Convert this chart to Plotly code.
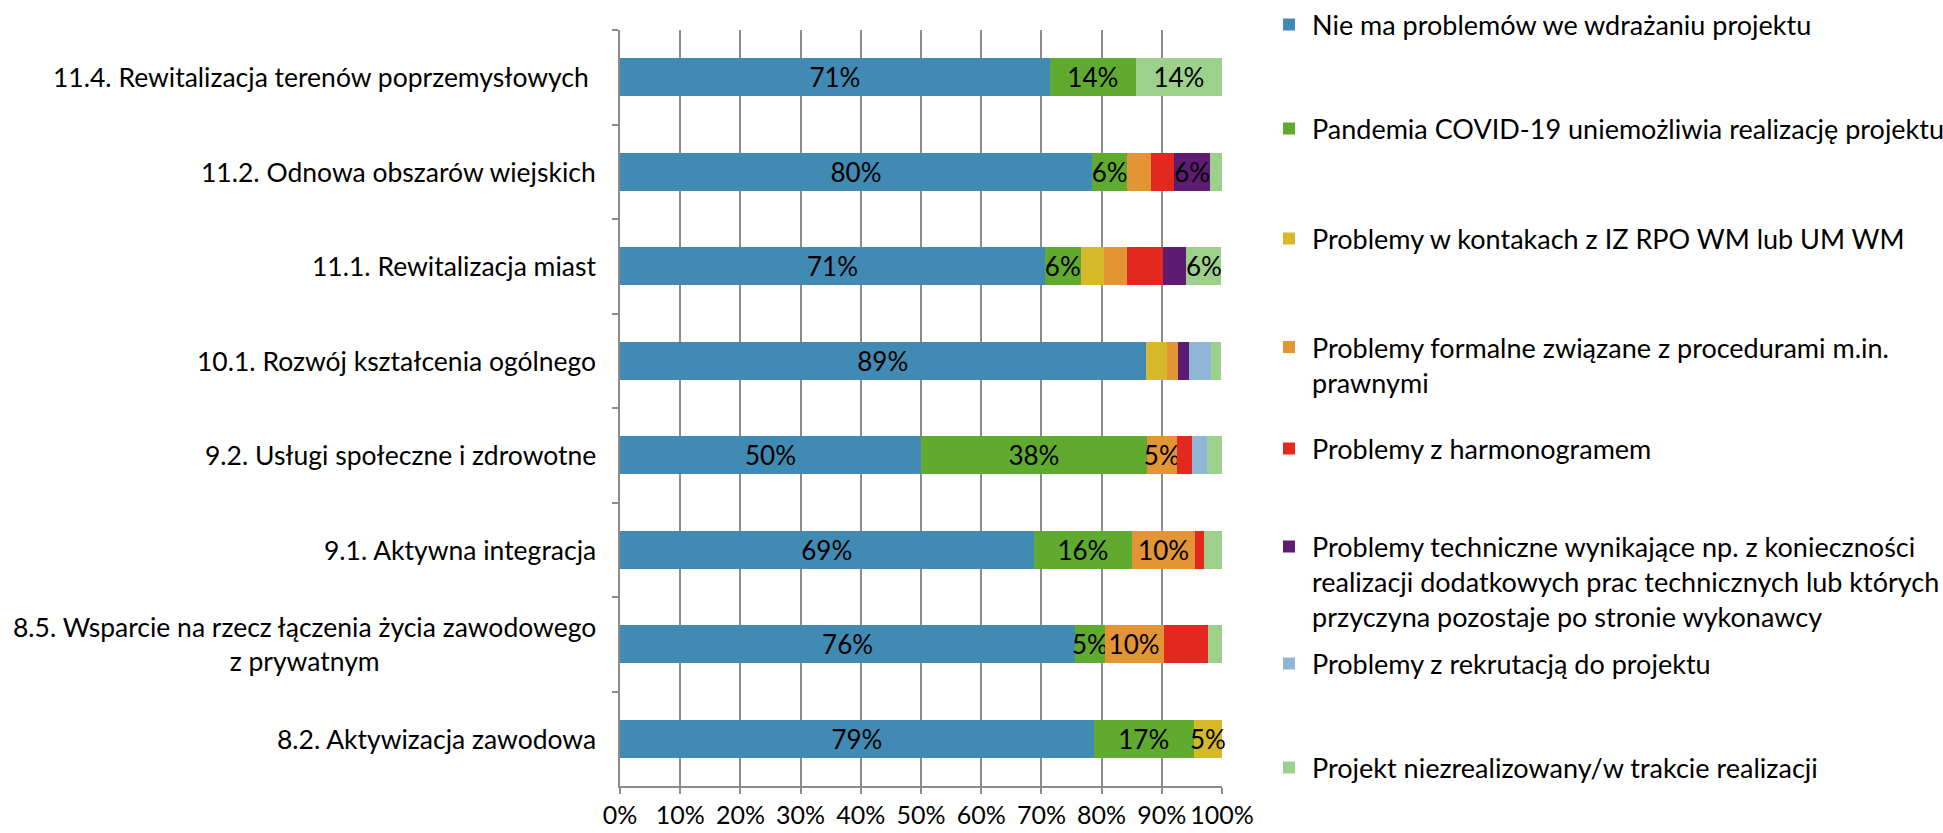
import plotly.graph_objects as go

categories = [
    "11.4. Rewitalizacja terenów poprzemysłowych\u00a0",
    "11.2. Odnowa obszarów wiejskich",
    "11.1. Rewitalizacja miast",
    "10.1. Rozwój kształcenia ogólnego",
    "9.2. Usługi społeczne i zdrowotne",
    "9.1. Aktywna integracja",
    "8.5. Wsparcie na rzecz łączenia życia zawodowego<br>z prywatnym",
    "8.2. Aktywizacja zawodowa",
]

series_names = [
    "Nie ma problemów we wdrażaniu projektu",
    "Pandemia COVID-19 uniemożliwia realizację projektu",
    "Problemy w kontakach z IZ RPO WM lub UM WM",
    "Problemy formalne związane z procedurami m.in.<br>prawnymi",
    "Problemy z harmonogramem",
    "Problemy techniczne wynikające np. z konieczności<br>realizacji dodatkowych prac technicznych lub których<br>przyczyna pozostaje po stronie wykonawcy",
    "Problemy z rekrutacją do projektu",
    "Projekt niezrealizowany/w trakcie realizacji",
]

# values in percent, per category (top to bottom)
nie_ma = [71.4, 78.4, 70.6, 87.3, 50.0, 68.7, 75.6, 78.7]
pandemia = [14.3, 5.9, 5.9, 0, 37.5, 16.4, 4.9, 16.6]
kontakty = [0, 0, 3.9, 3.6, 0, 0, 0, 4.7]
formalne = [0, 3.9, 3.9, 1.8, 5.0, 10.4, 9.8, 0]
harmonogram = [0, 3.9, 5.9, 0, 2.5, 1.5, 7.3, 0]
techniczne = [0, 5.9, 3.9, 1.8, 0, 0, 0, 0]
rekrutacja = [0, 0, 0, 3.6, 2.5, 0, 0, 0]
niezrealizowany = [14.3, 2.0, 5.8, 1.8, 2.5, 3.0, 2.4, 0]

# data labels as printed on the chart
lab_nie_ma = ["71%", "80%", "71%", "89%", "50%", "69%", "76%", "79%"]
lab_pandemia = ["14%", "6%", "6%", "", "38%", "16%", "5%", "17%"]
lab_kontakty = ["", "", "", "", "", "", "", "5%"]
lab_formalne = ["", "", "", "", "5%", "10%", "10%", ""]
lab_harmonogram = [""] * 8
lab_techniczne = ["", "6%", "", "", "", "", "", ""]
lab_rekrutacja = [""] * 8
lab_niezrealizowany = ["14%", "", "6%", "", "", "", "", ""]

colors = ["#418AB3", "#5FAA2F", "#D5B92B", "#E39434", "#E2281F", "#5E1B72", "#8FB6D7", "#9DD08B"]

values = [nie_ma, pandemia, kontakty, formalne, harmonogram, techniczne, rekrutacja, niezrealizowany]
labels = [lab_nie_ma, lab_pandemia, lab_kontakty, lab_formalne, lab_harmonogram,
          lab_techniczne, lab_rekrutacja, lab_niezrealizowany]

FONT = "Lato, 'Open Sans', sans-serif"
FS = 26

fig = go.Figure()
legend_ids = ["legend"] + [f"legend{i}" for i in range(2, 9)]
for i, (name, vals, labs, col) in enumerate(zip(series_names, values, labels, colors)):
    fig.add_trace(go.Bar(
        y=categories,
        x=[v / 100 for v in vals],
        name=name,
        orientation="h",
        marker=dict(color=col, line=dict(width=0)),
        text=labs,
        textposition="inside",
        insidetextanchor="middle",
        textangle=0,
        constraintext="none",
        textfont=dict(family=FONT, size=FS, color="#000000"),
        cliponaxis=False,
        legend=legend_ids[i],
        hoverinfo="skip",
    ))

# legend item vertical centres (pixels from top of the figure)
legend_center_px = [25, 129, 239, 365, 449, 582, 664, 768]
layout_legends = {}
for lid, cy in zip(legend_ids, legend_center_px):
    layout_legends[lid] = dict(
        xref="container", yref="container",
        x=1266 / 1943, xanchor="left", y=1 - cy / 833, yanchor="middle",
        font=dict(family=FONT, size=27, color="#000000"),
        bgcolor="rgba(0,0,0,0)", valign="top", itemwidth=36,
        itemclick=False, itemdoubleclick=False,
    )

fig.update_layout(
    width=1943, height=833,
    margin=dict(l=620, r=721, t=30, b=47, autoexpand=False),
    barmode="stack",
    bargap=0.6,
    plot_bgcolor="white", paper_bgcolor="white",
    showlegend=True,
    uniformtext=dict(mode="show", minsize=FS),
    font=dict(family=FONT, size=FS, color="#000000"),
    **layout_legends,
)

fig.update_xaxes(
    range=[0, 1], dtick=0.1, tick0=0, tickformat=".0%", tickangle=0,
    showgrid=True, gridcolor="#8C8C8C", gridwidth=1.5,
    showline=True, linecolor="#8C8C8C", linewidth=1.5,
    ticks="outside", ticklen=6, tickcolor="#8C8C8C", tickwidth=1.5,
    tickfont=dict(family=FONT, size=25, color="#000000"),
    zeroline=False, fixedrange=True,
)
fig.update_yaxes(
    categoryorder="array", categoryarray=categories, autorange="reversed",
    showticklabels=False, showgrid=False,
    showline=True, linecolor="#8C8C8C", linewidth=1.5,
    ticks="outside", ticklen=6, tickcolor="#8C8C8C", tickwidth=1.5,
    tickson="boundaries", fixedrange=True,
)

for cat in categories:
    fig.add_annotation(
        x=0, xref="paper", y=cat, yref="y",
        text=cat, showarrow=False, xanchor="right", xshift=-22,
        align="center", font=dict(family=FONT, size=26.5, color="#000000"),
    )

fig.write_html(
    "out.html",
    config={"displayModeBar": False},
    post_script="document.body.style.margin='0px';document.body.style.overflow='hidden';",
)
